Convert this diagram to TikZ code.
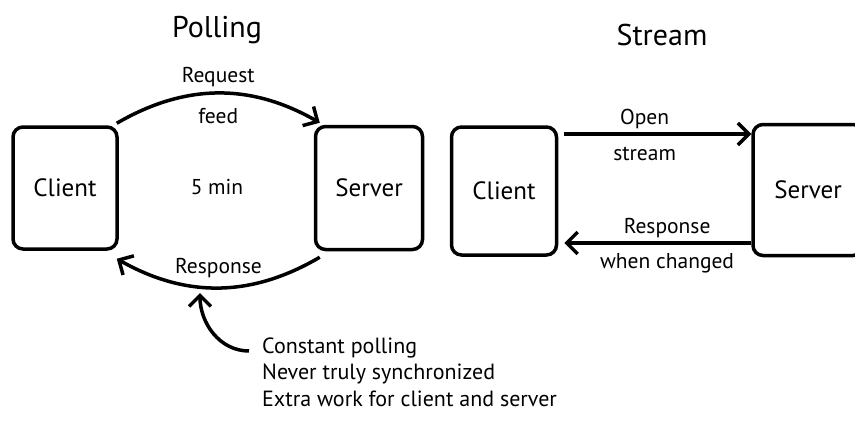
\documentclass[tikz,border=0pt]{standalone}
\usepackage{fontspec}
\setmainfont{PT Sans}
\usetikzlibrary{arrows.meta,positioning}
\tikzset{
  >={Straight Barb[length=11pt, width=22pt]},
  box/.style={draw, line width=3.5pt, rounded corners=10pt, minimum width=104pt, minimum height=122pt, font=\fontsize{25}{30}\selectfont},
  ttl/.style={font=\fontsize{30}{36}\selectfont},
  lab/.style={font=\fontsize{21.5}{26}\selectfont, inner sep=2pt},
  note/.style={font=\fontsize{22}{26}\selectfont, anchor=west, inner sep=0pt, text height=15pt, text depth=4pt},
  link/.style={->, line width=3.5pt},
}

\begin{document}
\begin{tikzpicture}[x=1pt, y=-1pt]
\useasboundingbox (0,0) rectangle (855,431);

% ---------------------------------------------------------------- polling
\node[ttl] (tpoll) at (217,30) {Polling};
\node[box] (cl) at (65,188) {Client};
\node[box, minimum width=107pt, minimum height=123pt] (sv) at (369,188) {Server};
\node[lab] (tmin) at (217,187) {5 min};
\draw[link] ([xshift=-2pt,yshift=2pt]cl.north east) to[bend left=30]
  node[midway, above=3pt, lab] {Request} node[midway, below=11pt, lab] {feed}
  ([xshift=6pt,yshift=2pt]sv.north west);
\draw[link] ([xshift=6pt,yshift=-6pt]sv.south west) to[bend left=30]
  node[midway, above=6pt, lab] {Response}
  ([xshift=-2pt,yshift=-8pt]cl.south east);

\node[note] (n1) at (262,348) {Constant polling};
\node[note, below=7pt of n1.south west, anchor=north west] (n2) {Never truly synchronized};
\node[note, below=7pt of n2.south west, anchor=north west] (n3) {Extra work for client and server};
\coordinate (ptr) at (200,293);
\draw[link] ([xshift=-13pt,yshift=-3pt]n1.west) to[out=180, in=-90] (ptr);

% ---------------------------------------------------------------- stream
\node[ttl] (tstr) at (662,35) {Stream};
\node[box, minimum width=105pt, minimum height=128pt] (cl2) at (504,191) {Client};
\node[box, minimum width=110pt, minimum height=131pt] (sv2) at (808,190) {Server};
\draw[link] ([xshift=6pt,yshift=57pt]cl2.east) -- ([yshift=57pt]cl2.east -| sv2.west)
  node[pos=0.43, above=1pt, lab] {Open} node[pos=0.43, below=9pt, lab] {stream};
\draw[link] ([yshift=-52pt]cl2.east -| sv2.west) -- ([xshift=6pt,yshift=-52pt]cl2.east)
  node[pos=0.45, above=1pt, lab] {Response} node[pos=0.45, below=7pt, lab] {when changed};
\end{tikzpicture}
\end{document}
